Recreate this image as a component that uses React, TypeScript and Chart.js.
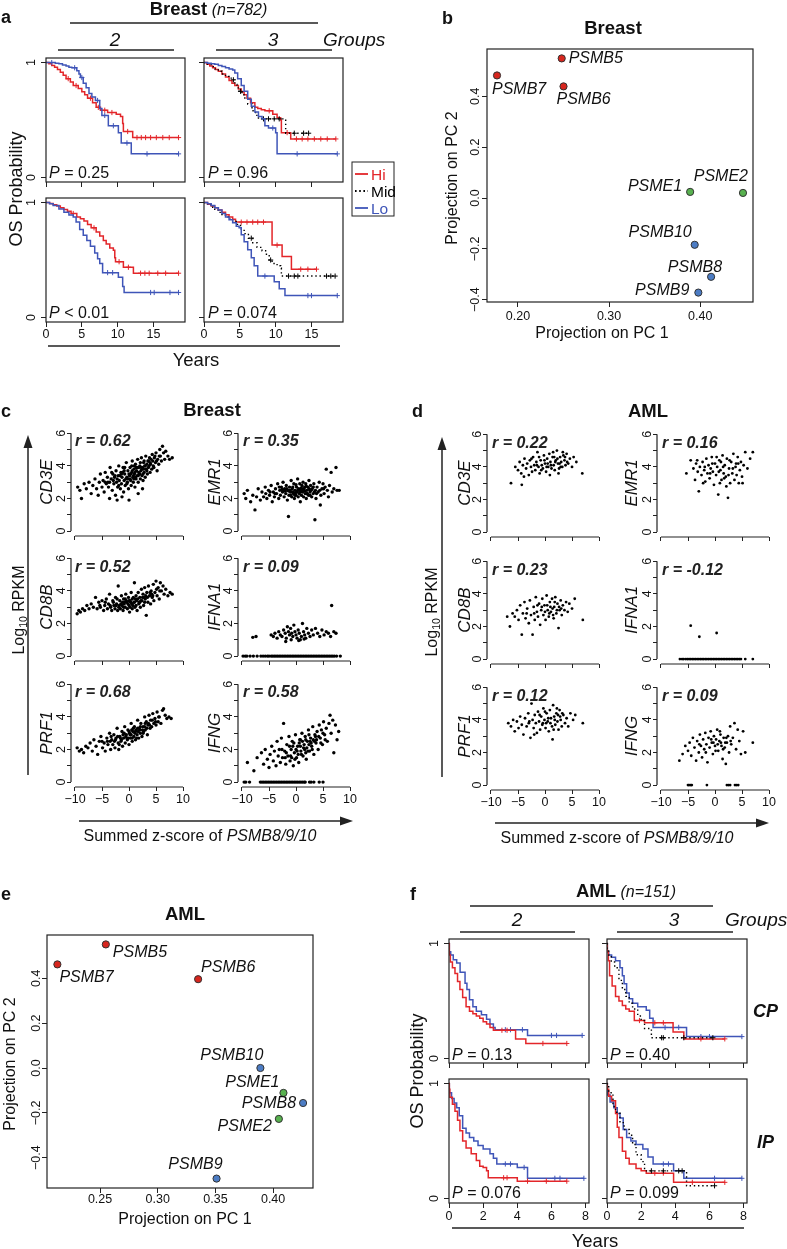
import React, { useEffect, useRef } from "react";
import { Chart, registerables } from "chart.js";

Chart.register(...registerables);

const FONT = '"Liberation Sans", Arial, Helvetica, sans-serif';
Chart.defaults.font.family = FONT;
Chart.defaults.color = "#111";

// ---------------- DATA ----------------
// Kaplan-Meier curves: [years, survival]; a repeated survival value marks a censored case (+)
// Panel a (Breast)
const a1Hi = [[0,1],[0.4,0.99],[0.8,0.975],[1.2,0.96],[1.6,0.94],[2,0.915],[2.4,0.89],[2.8,0.86],[3.1,0.86],[3.4,0.83],[3.8,0.8],[4.2,0.8],[4.5,0.775],[5,0.745],[5.4,0.72],[5.8,0.69],[6.2,0.69],[6.5,0.65],[7,0.61],[7.3,0.61],[7.6,0.585],[8.2,0.585],[8.6,0.565],[9.2,0.565],[9.8,0.55],[10.4,0.53],[10.7,0.47],[10.8,0.4],[11.4,0.4],[12.1,0.347],[12.7,0.347],[13.3,0.347],[13.9,0.347],[14.6,0.347],[15.4,0.347],[16.3,0.347],[17.2,0.347],[18.5,0.347]];
const a1Lo = [[0,1],[0.8,1],[1.3,0.995],[1.8,0.99],[2.3,0.98],[2.8,0.97],[3.2,0.96],[3.6,0.955],[4,0.955],[4.3,0.93],[4.6,0.9],[4.8,0.87],[5,0.87],[5.2,0.82],[5.6,0.78],[6,0.73],[6.4,0.7],[6.9,0.67],[7.2,0.67],[7.5,0.6],[7.8,0.54],[8.2,0.54],[8.7,0.45],[9.4,0.45],[10.1,0.39],[10.5,0.3],[11.3,0.3],[11.9,0.205],[14.1,0.205],[18.5,0.205]];
const a2Hi = [[0,1],[0.4,0.985],[0.8,0.97],[1.2,0.955],[1.6,0.94],[2,0.925],[2.5,0.9],[3,0.875],[3.5,0.845],[3.9,0.82],[4.3,0.8],[4.8,0.77],[5.2,0.745],[5.6,0.72],[6,0.69],[6.5,0.65],[7.1,0.61],[7.5,0.6],[8,0.59],[8.5,0.58],[9.1,0.58],[9.6,0.55],[10.2,0.52],[10.7,0.5],[10.8,0.39],[11.6,0.39],[12.1,0.335],[12.9,0.335],[13.7,0.335],[14.5,0.335],[15.4,0.335],[16.3,0.335],[17.2,0.335],[18.4,0.335]];
const a2Mid = [[0,1],[0.5,0.985],[1,0.965],[1.5,0.945],[2,0.925],[2.5,0.9],[3,0.88],[3.5,0.865],[3.9,0.85],[4.1,0.85],[4.3,0.81],[4.6,0.78],[4.9,0.75],[5.1,0.75],[5.3,0.72],[5.7,0.68],[6.1,0.64],[6.7,0.58],[7.2,0.54],[7.6,0.51],[8.3,0.51],[9,0.51],[9.8,0.51],[10.5,0.51],[11.4,0.385],[12.6,0.385],[13.9,0.385],[14.6,0.385]];
const a2Lo = [[0,1],[0.5,0.995],[1,0.99],[1.5,0.985],[2,0.975],[2.5,0.965],[3,0.955],[3.5,0.945],[4,0.935],[4.3,0.91],[4.7,0.86],[5.2,0.8],[5.6,0.75],[6.1,0.68],[6.6,0.62],[7.1,0.57],[7.6,0.53],[8.1,0.51],[8.5,0.45],[9,0.43],[9.6,0.43],[10,0.39],[10.2,0.205],[13,0.205],[18.6,0.205]];
const a3Hi = [[0,1],[0.5,0.992],[1,0.982],[1.5,0.97],[2,0.955],[2.5,0.94],[3,0.925],[3.5,0.905],[3.8,0.905],[4.3,0.874],[4.8,0.86],[5.3,0.84],[5.8,0.81],[6.3,0.78],[6.7,0.78],[7,0.744],[7.5,0.71],[8,0.67],[8.4,0.64],[8.9,0.605],[9.4,0.586],[9.6,0.52],[9.7,0.485],[10.2,0.485],[10.8,0.437],[11.5,0.437],[12.2,0.385],[13.2,0.385],[13.8,0.385],[14.4,0.385],[15.6,0.385],[16.7,0.385],[18.5,0.385]];
const a3Lo = [[0,1],[0.5,0.99],[1,0.975],[1.8,0.945],[2.5,0.915],[3.2,0.893],[3.8,0.874],[4.2,0.83],[4.7,0.765],[5.2,0.715],[5.7,0.67],[6.2,0.62],[6.8,0.56],[7.2,0.51],[7.5,0.47],[7.9,0.39],[8.6,0.39],[9.3,0.39],[10.1,0.35],[10.7,0.27],[10.9,0.217],[14.6,0.217],[15.1,0.217],[17.3,0.217],[18.5,0.217]];
const a4Hi = [[0,1],[0.5,0.985],[1,0.97],[1.5,0.955],[2,0.935],[2.5,0.915],[3,0.895],[3.5,0.875],[4,0.855],[4.4,0.83],[5.2,0.83],[6,0.83],[6.8,0.83],[7.5,0.83],[8.3,0.83],[9.5,0.63],[10.2,0.63],[10.9,0.53],[12.2,0.42],[13.5,0.42],[14.5,0.42],[15.7,0.42]];
const a4Mid = [[0,1],[0.5,0.98],[1,0.96],[1.5,0.935],[2,0.915],[2.5,0.895],[3,0.875],[3.4,0.855],[4,0.835],[4.6,0.81],[5.1,0.77],[5.6,0.73],[6.2,0.69],[6.6,0.69],[6.8,0.65],[7.4,0.61],[8.1,0.58],[8.6,0.55],[9.1,0.5],[9.3,0.5],[9.5,0.47],[10.2,0.45],[10.7,0.43],[10.8,0.36],[11.8,0.36],[12.6,0.36],[13.1,0.36],[17.1,0.36],[17.7,0.36],[18.3,0.36]];
const a4Lo = [[0,1],[0.5,0.99],[1,0.975],[1.5,0.955],[2,0.935],[2.5,0.905],[3,0.875],[3.5,0.85],[4,0.825],[4.5,0.795],[4.9,0.78],[5.2,0.72],[5.6,0.66],[6.1,0.59],[6.6,0.52],[7,0.45],[7.5,0.36],[8.5,0.36],[9.8,0.31],[10.5,0.25],[11.3,0.19],[14.5,0.19],[15,0.19],[18.6,0.19]];
// Panel f (AML)
const f1Hi = [[0,1],[0.02,0.9],[0.08,0.84],[0.2,0.79],[0.35,0.74],[0.5,0.67],[0.64,0.6],[0.8,0.53],[1,0.45],[1.2,0.41],[1.4,0.39],[1.6,0.37],[1.8,0.35],[2,0.32],[2.2,0.3],[2.4,0.27],[2.6,0.245],[3.1,0.245],[3.4,0.245],[3.9,0.17],[4.5,0.13],[5.5,0.13],[6.9,0.13]];
const f1Lo = [[0,1],[0.02,0.93],[0.1,0.9],[0.25,0.86],[0.45,0.83],[0.65,0.75],[0.94,0.655],[1.05,0.6],[1.2,0.51],[1.4,0.45],[1.6,0.41],[1.9,0.38],[2.2,0.34],[2.4,0.3],[2.6,0.27],[2.7,0.25],[3.3,0.25],[3.6,0.25],[4.3,0.25],[4.6,0.2],[6,0.2],[6.3,0.2],[7.8,0.2]];
const f2Hi = [[0,1],[0.02,0.93],[0.08,0.85],[0.15,0.72],[0.3,0.63],[0.5,0.54],[0.7,0.5],[0.9,0.46],[1.1,0.43],[1.3,0.41],[1.6,0.33],[1.9,0.33],[2.2,0.31],[2.8,0.31],[3.3,0.31],[3.87,0.23],[4.5,0.17],[5.5,0.17],[6.9,0.17]];
const f2Mid = [[0,1],[0.02,0.95],[0.1,0.9],[0.25,0.84],[0.45,0.79],[0.7,0.68],[0.9,0.6],[1.1,0.54],[1.3,0.48],[1.5,0.43],[1.8,0.37],[2,0.33],[2.2,0.26],[2.6,0.18],[3.2,0.18],[3.3,0.18],[4.5,0.18],[6.2,0.18]];
const f2Lo = [[0,1],[0.02,0.93],[0.1,0.9],[0.27,0.88],[0.5,0.85],[0.76,0.79],[0.9,0.72],[1,0.65],[1.15,0.57],[1.3,0.52],[1.5,0.48],[1.8,0.45],[2.3,0.42],[2.5,0.35],[2.7,0.27],[3.4,0.27],[4.2,0.27],[4.66,0.19],[5.5,0.19],[6,0.19],[7.9,0.19]];
const f3Hi = [[0,1],[0.02,0.95],[0.05,0.88],[0.2,0.82],[0.35,0.76],[0.5,0.68],[0.64,0.59],[0.8,0.5],[1,0.44],[1.3,0.39],[1.6,0.33],[1.8,0.28],[2,0.27],[2.2,0.24],[2.3,0.18],[3.2,0.18],[3.4,0.18],[4,0.15],[4.6,0.15],[5.7,0.15],[6.9,0.15]];
const f3Lo = [[0,1],[0.02,0.92],[0.15,0.87],[0.3,0.83],[0.45,0.79],[0.6,0.72],[0.8,0.61],[1,0.57],[1.2,0.53],[1.45,0.5],[1.7,0.46],[2,0.43],[2.4,0.39],[2.6,0.35],[2.8,0.3],[3.3,0.3],[3.6,0.3],[4,0.27],[4.4,0.27],[4.6,0.175],[6.2,0.175],[6.5,0.175],[7.9,0.175]];
const f4Hi = [[0,1],[0.02,0.95],[0.1,0.89],[0.27,0.85],[0.5,0.74],[0.6,0.62],[0.7,0.53],[0.9,0.41],[1.1,0.35],[1.3,0.3],[1.7,0.26],[2,0.24],[2.3,0.22],[2.8,0.22],[3.3,0.22],[3.9,0.14],[5,0.14],[6.9,0.14]];
const f4Mid = [[0,1],[0.02,0.98],[0.1,0.92],[0.35,0.8],[0.5,0.75],[0.76,0.66],[1,0.6],[1.3,0.55],[1.5,0.47],[1.7,0.38],[2,0.32],[2.2,0.24],[2.6,0.24],[3.3,0.24],[4.2,0.24],[4.4,0.24],[4.66,0.11],[6.3,0.11]];
const f4Lo = [[0,1],[0.02,0.9],[0.18,0.84],[0.4,0.79],[0.6,0.74],[0.76,0.7],[0.95,0.6],[1.15,0.53],[1.4,0.5],[1.7,0.47],[2.1,0.43],[2.4,0.36],[2.7,0.3],[3.3,0.3],[3.6,0.3],[3.9,0.24],[4.5,0.175],[6.3,0.175],[7.9,0.175]];

const kmYearTicksA = [0, 5, 10, 15];
const kmYearTicksF = [0, 2, 4, 6, 8];
const aPvals = ["= 0.25", "= 0.96", "< 0.01", "= 0.074"];
const fPvals = ["= 0.13", "= 0.40", "= 0.076", "= 0.099"];

// PCA projections (panels b, e)
const genes = ["PSMB5", "PSMB6", "PSMB7", "PSMB8", "PSMB9", "PSMB10", "PSME1", "PSME2"];
const bPC1 = [0.248, 0.25, 0.177, 0.412, 0.398, 0.394, 0.389, 0.447];
const bPC2 = [0.549, 0.439, 0.482, -0.31, -0.372, -0.184, 0.024, 0.02];
const ePC1 = [0.255, 0.335, 0.213, 0.426, 0.351, 0.389, 0.409, 0.405];
const ePC2 = [0.551, 0.396, 0.462, -0.156, -0.493, 0.0, -0.111, -0.227];
const bXTicks = [0.2, 0.3, 0.4];
const eXTicks = [0.25, 0.3, 0.35, 0.4];
const pcYTicks = [-0.4, -0.2, 0, 0.2, 0.4];

// Scatter panels c (Breast) and d (AML): flat [x, y, x, y, ...] (summed z-score, log10 RPKM)
const cCD3E = [-9.5,2.7,-9.1,2.5,-8.8,2.0,-8.3,2.9,-7.9,2.6,-7.4,3.0,-7.0,2.3,-6.7,2.8,-6.3,3.2,-6.0,2.6,-5.7,2.2,-5.5,3.0,-5.3,3.5,-5.0,2.7,-4.8,3.1,-4.6,2.4,-4.4,3.6,-4.2,2.9,-4.0,3.3,-3.8,2.7,-3.6,3.0,-3.5,3.9,-3.3,3.2,-3.1,2.5,-3.0,3.5,-2.8,2.9,-2.7,3.3,-2.5,2.2,-2.4,3.7,-2.3,3.0,-2.1,2.7,-2.0,3.4,-1.9,4.0,-1.8,3.1,-1.6,2.6,-1.5,3.6,-1.4,2.9,-1.3,3.3,-1.1,3.9,-1.0,2.4,-0.9,3.1,-0.8,3.5,-0.7,2.8,-0.5,4.2,-0.4,3.3,-0.3,3.0,-0.2,3.7,-0.1,2.6,0.0,1.9,0.1,3.4,0.2,3.9,0.3,3.1,0.4,2.8,0.5,3.6,0.6,4.3,0.7,3.3,0.8,3.0,0.9,3.8,1.0,3.5,1.1,2.7,1.2,4.1,1.3,3.2,1.4,3.7,1.5,3.4,1.6,4.4,1.7,3.0,1.8,3.9,1.9,3.5,2.0,4.0,2.1,3.2,2.2,3.7,2.3,4.5,2.4,3.4,2.5,3.9,2.6,3.1,2.7,4.2,2.8,3.6,2.9,4.0,3.0,3.3,3.1,4.6,3.2,3.8,3.3,4.1,3.4,3.5,3.5,4.3,3.6,3.9,3.8,4.5,3.9,3.6,4.0,4.1,4.2,3.8,4.3,4.7,4.4,4.3,4.6,3.9,4.7,4.5,4.9,4.2,5.0,4.8,5.2,3.7,5.3,4.4,5.5,4.1,5.7,5.0,5.8,4.6,6.0,4.3,6.2,5.2,6.4,4.8,6.6,4.4,6.8,4.9,7.2,4.6,7.5,4.4,8.0,4.5,-1.7,3.4,-0.6,3.2,0.0,3.5,0.6,3.7,1.2,3.3,1.8,3.6,2.4,3.8,3.0,4.0,-2.2,3.2,-1.2,3.6,0.3,3.5,1.0,4.0,2.6,3.5,3.7,4.0,-0.2,3.2,0.8,3.4,1.5,3.9,2.1,4.2,-2.2,1.9,-1.3,2.1,1.7,2.3,2.5,2.6,-3.6,2.0,-3.9,3.0,-3.2,3.6,-2.6,3.4,-1.9,2.8,-1.4,3.5,-0.9,3.7,-0.4,2.9,0.2,3.2,0.5,4.0,0.9,3.2,1.3,3.9,1.7,3.4,2.0,3.5,2.3,3.9,2.8,4.3,3.3,3.7,3.6,4.3,4.1,4.4,4.5,4.0,5.1,4.3,-4.4,3.0,-2.9,3.1,-0.8,3.9,1.1,3.6,2.7,3.8,3.9,4.2,4.8,4.6,5.6,4.6];
const cEMR1 = [-9.6,2.3,-9.3,2.0,-9.0,2.5,-8.4,1.8,-8.0,2.2,-7.6,1.3,-7.3,2.1,-7.0,2.6,-6.6,1.9,-6.3,2.4,-6.0,2.1,-5.7,2.7,-5.4,2.0,-5.1,2.5,-4.9,2.2,-4.6,2.8,-4.4,1.8,-4.2,2.4,-4.0,2.1,-3.8,2.6,-3.6,2.3,-3.4,2.9,-3.2,2.0,-3.0,2.5,-2.9,2.2,-2.7,2.7,-2.5,2.4,-2.4,3.0,-2.2,2.1,-2.1,2.6,-1.9,2.3,-1.8,2.8,-1.6,1.9,-1.5,2.5,-1.4,0.9,-1.3,2.2,-1.2,2.7,-1.0,2.4,-0.9,3.1,-0.8,2.1,-0.7,2.6,-0.5,2.3,-0.4,2.9,-0.3,2.0,-0.2,2.5,0.0,2.2,0.1,2.7,0.2,2.4,0.3,3.2,0.4,2.1,0.5,2.6,0.6,2.3,0.7,2.9,0.8,1.8,0.9,2.5,1.0,2.2,1.1,2.8,1.2,2.4,1.3,3.0,1.4,2.1,1.5,2.6,1.7,2.3,1.8,2.9,1.9,2.0,2.0,2.5,2.2,2.7,2.3,2.2,2.4,3.1,2.6,2.4,2.7,2.8,2.9,2.1,3.0,2.6,3.2,2.3,3.3,2.9,3.5,0.7,3.6,2.5,3.7,2.0,3.9,2.7,4.1,2.4,4.3,3.0,4.5,1.6,4.6,2.2,4.8,2.6,5.0,2.9,5.2,2.3,5.4,2.7,5.6,3.8,5.8,2.5,6.0,2.1,6.2,2.8,6.5,3.6,6.7,2.4,7.0,2.6,7.4,3.9,7.6,2.5,8.0,2.5,-2.0,2.45,-1.1,2.5,-0.1,2.35,0.6,2.55,1.6,2.45,2.5,2.55,3.4,2.4,-2.6,2.55,1.0,2.65,-0.6,2.4,2.1,2.3,1.3,2.55,-4.8,2.4,-3.9,2.3,-3.1,2.7,-2.3,2.5,-1.7,2.6,-1.0,2.2,-0.6,2.7,-0.2,2.2,0.3,2.5,0.7,2.4,1.1,2.45,1.6,2.7,2.0,2.3,2.4,2.6,2.8,2.5,3.2,2.7,3.8,2.3,4.4,2.5,5.1,2.6,-5.6,2.3,0.0,2.85,1.9,2.75,-1.3,2.45,2.6,2.2];
const cCD8B = [-9.6,2.6,-9.3,2.8,-9.0,2.7,-8.6,2.9,-8.2,2.8,-7.8,3.1,-7.4,2.9,-7.0,3.2,-6.6,3.0,-6.2,3.6,-5.9,2.9,-5.6,3.3,-5.3,3.0,-5.0,3.4,-4.7,2.8,-4.5,3.1,-4.2,3.5,-4.0,2.9,-3.8,3.2,-3.6,3.8,-3.4,3.0,-3.2,2.8,-3.0,3.4,-2.8,3.1,-2.6,2.9,-2.5,3.6,-2.3,3.2,-2.1,2.8,-2.0,4.3,-1.9,3.0,-1.7,3.4,-1.6,2.9,-1.4,3.7,-1.3,3.1,-1.1,2.8,-1.0,3.5,-0.9,3.2,-0.7,3.0,-0.6,3.8,-0.4,3.3,-0.3,2.9,-0.1,3.6,0.0,3.1,0.1,2.7,0.2,3.4,0.4,3.9,0.5,3.2,0.6,2.9,0.8,3.6,0.9,3.3,1.0,4.5,1.1,3.0,1.3,3.7,1.4,3.4,1.5,2.8,1.7,3.9,1.8,3.2,2.0,3.6,2.1,3.0,2.3,4.1,2.4,3.4,2.6,3.8,2.7,3.1,2.9,4.2,3.0,3.5,3.2,2.5,3.3,3.9,3.5,3.3,3.6,4.3,3.8,3.7,4.0,3.2,4.1,4.0,4.3,3.6,4.5,4.4,4.6,3.4,4.8,3.9,5.0,4.6,5.2,3.7,5.4,4.2,5.6,3.5,5.8,4.5,6.0,4.0,6.3,4.3,6.5,3.8,6.8,4.1,7.2,3.7,7.6,3.9,8.0,3.8,-1.5,3.2,-0.5,3.4,0.3,3.3,1.2,3.5,2.2,3.4,3.1,3.7,-2.4,3.1,0.7,3.1,1.9,3.3,2.8,3.6,-0.8,3.3,4.2,3.8,-5.4,3.1,-4.4,3.3,-3.5,3.1,-2.9,3.3,-2.2,3.5,-1.8,3.1,-1.2,3.3,-0.7,3.5,-0.2,3.2,0.2,3.0,0.6,3.5,1.0,3.3,1.6,3.5,2.0,3.3,2.5,3.6,2.9,3.3,3.4,3.6,3.9,3.9,4.4,3.7,5.1,4.1,5.7,4.0,1.3,3.1,0.0,3.4,-1.0,3.0];
const cIFNA1 = [-8.0,1.15,-7.4,1.2,-4.6,1.3,-4.2,1.2,-3.9,1.4,-3.5,1.1,-3.2,1.5,-2.9,1.3,-2.6,1.2,-2.3,1.6,-2.0,1.4,-1.8,1.1,-1.6,1.8,-1.4,1.5,-1.2,1.3,-1.0,1.7,-0.8,1.4,-0.6,1.2,-0.4,1.9,-0.2,1.5,0.0,1.3,0.2,1.1,0.4,1.6,0.6,1.4,0.8,1.0,1.0,1.2,1.2,2.0,1.4,1.5,1.6,1.3,1.8,1.1,2.0,1.7,2.3,1.4,2.6,1.2,2.9,1.6,3.2,1.3,3.6,1.7,4.0,1.4,4.4,1.2,4.8,1.6,5.2,1.3,5.6,1.5,6.0,1.4,6.4,1.2,6.6,3.1,7.0,1.5,7.4,1.4,-1.9,0.9,0.5,0.95,1.5,1.05,-0.9,1.0];
const cIFNA1Zero = [-9.8,-9.4,-9.1,-8.5,-7.9,-7.2,-6.5,-6.1,-5.7,-5.3,-5.0,-4.6,-4.3,-4.0,-3.7,-3.4,-3.1,-2.8,-2.5,-2.2,-1.9,-1.6,-1.3,-1.0,-0.7,-0.4,-0.1,0.2,0.5,0.8,1.1,1.4,1.7,2.0,2.3,2.6,2.9,3.2,3.5,3.8,4.1,4.4,4.7,5.0,5.3,5.6,5.9,6.2,6.5,6.8,7.1,7.5,8.2];
const cPRF1 = [-9.6,2.1,-9.2,1.9,-8.8,2.0,-8.4,1.8,-8.0,2.2,-7.6,2.1,-7.2,2.4,-6.8,1.9,-6.5,2.6,-6.1,2.2,-5.8,1.7,-5.5,2.5,-5.2,2.8,-4.9,2.1,-4.6,2.4,-4.4,1.9,-4.1,2.7,-3.9,2.3,-3.6,3.0,-3.4,2.0,-3.2,2.6,-3.0,2.3,-2.8,2.9,-2.6,2.1,-2.4,2.7,-2.2,3.3,-2.0,2.4,-1.9,2.0,-1.7,2.8,-1.5,2.5,-1.3,3.1,-1.2,2.2,-1.0,2.7,-0.8,3.4,-0.7,2.4,-0.5,2.9,-0.3,2.6,-0.2,3.2,0.0,2.3,0.1,3.0,0.3,2.7,0.4,3.6,0.6,2.5,0.7,3.1,0.9,2.8,1.0,3.4,1.2,2.6,1.3,3.2,1.5,2.9,1.6,3.8,1.8,2.7,1.9,3.3,2.1,3.0,2.2,3.6,2.4,2.8,2.6,3.4,2.7,3.1,2.9,4.0,3.0,3.2,3.2,3.7,3.4,2.9,3.5,3.5,3.7,4.1,3.9,3.3,4.0,3.8,4.2,3.4,4.4,4.2,4.6,3.6,4.8,3.9,5.0,3.5,5.2,4.3,5.4,3.7,5.6,4.0,5.9,3.6,6.2,4.4,6.4,4.5,6.7,4.1,7.0,3.9,7.4,4.0,7.8,3.9,-2.5,2.6,-1.6,2.7,-0.6,2.8,0.2,2.9,1.1,3.0,2.0,3.2,2.9,3.4,-1.1,2.9,0.5,3.2,1.7,3.1,2.5,3.2,3.6,3.6,-0.1,2.7,-3.5,2.5,-5.0,2.5,-4.0,2.5,-3.3,2.8,-2.7,2.5,-2.1,2.8,-1.4,2.6,-0.9,3.0,-0.4,2.7,0.0,3.1,0.4,2.9,0.8,3.3,1.2,3.1,1.6,3.3,2.1,3.4,2.6,3.0,3.0,3.6,3.3,3.3,3.8,3.5,4.3,3.8,4.9,3.7,5.5,4.0,1.4,2.7,-1.8,2.3,0.6,2.7];
const cIFNG = [-9.0,1.2,-7.8,0.7,-7.2,1.5,-6.4,1.8,-6.0,1.1,-5.7,2.0,-5.3,1.4,-5.0,0.9,-4.8,1.7,-4.5,2.2,-4.2,1.3,-4.0,1.9,-3.7,1.0,-3.5,2.5,-3.3,1.6,-3.1,2.0,-2.9,1.2,-2.7,2.7,-2.5,1.5,-2.3,3.6,-2.1,1.9,-1.9,1.1,-1.7,2.3,-1.5,1.6,-1.3,2.8,-1.1,1.3,-0.9,2.0,-0.7,2.5,-0.5,1.0,-0.3,1.8,-0.1,2.9,0.1,1.5,0.3,2.2,0.5,1.2,0.7,2.6,0.9,1.9,1.1,3.0,1.3,1.6,1.5,2.3,1.7,2.8,1.9,1.4,2.1,2.5,2.3,3.2,2.5,1.9,2.7,2.7,2.9,2.2,3.1,3.4,3.3,1.7,3.5,2.9,3.7,2.4,3.9,3.1,4.1,2.0,4.3,3.5,4.5,2.7,4.7,3.2,4.9,2.3,5.1,3.7,5.3,2.9,5.6,3.3,5.8,2.5,6.1,3.6,6.3,4.1,6.5,3.0,6.8,3.8,7.0,1.8,7.3,3.5,7.6,2.6,7.9,3.1,-1.0,1.6,0.0,2.0,0.8,2.2,1.6,2.0,2.4,2.3,3.2,2.6,-2.0,1.5,0.4,1.7,1.2,2.5,2.0,2.1,2.8,2.4,3.6,2.8,-0.6,2.2,1.8,1.8,-2.6,2.0,-1.8,1.8,-1.2,2.2,-0.8,1.5,-0.4,2.4,0.2,1.9,0.6,2.4,1.0,1.7,1.4,2.1,1.8,2.6,2.2,1.9,2.6,2.5,3.0,2.0,3.4,2.5,3.8,2.6,4.2,2.8,4.6,2.4,5.0,3.0,5.4,2.6,2.4,2.9,0.8,2.6,-0.2,1.4];
const cIFNGZero = [-9.6,-9.3,-8.6,-6.6,-6.3,-6.0,-5.7,-5.4,-5.1,-4.8,-4.5,-4.2,-3.9,-3.6,-3.3,-3.0,-2.7,-2.4,-2.1,-1.8,-1.5,-1.2,-0.9,-0.6,-0.3,0.0,0.3,0.6,0.9,1.2,1.5,1.7,2.5,2.8,3.3,4.3,5.0];
const dCD3E = [-6.3,3.0,-4.3,2.9,-5.5,4.0,-5.0,3.8,-4.7,4.3,-4.4,3.6,-4.1,4.1,-3.8,4.5,-3.5,3.9,-3.3,4.2,-3.0,3.5,-2.8,4.4,-2.6,4.0,-2.4,3.7,-2.2,4.6,-2.0,4.1,-1.8,3.8,-1.6,4.3,-1.4,4.9,-1.2,4.0,-1.0,3.6,-0.8,4.4,-0.6,4.1,-0.4,3.9,-0.2,4.7,0.0,4.2,0.2,3.7,0.4,4.5,0.6,4.0,0.8,4.8,1.0,4.3,1.2,3.9,1.4,4.6,1.6,4.1,1.8,3.8,2.0,4.4,2.2,5.0,2.4,4.2,2.6,3.9,2.8,4.6,3.0,4.3,3.2,4.0,3.4,4.7,3.6,4.4,3.8,4.1,4.0,4.8,4.3,4.2,4.6,4.5,5.0,4.0,5.3,4.6,5.8,4.3,6.9,3.6,-3.9,3.4,0.9,3.5,2.5,3.6,-1.1,4.6,1.5,4.9,3.3,4.9,-0.1,4.4,1.9,4.3,2.9,4.0,0.5,4.2,1.1,4.1,2.3,4.5,3.7,4.6,-2.5,4.5,-0.7,3.8,4.1,4.3,-1.5,4.1,0.3,4.0,1.7,4.6,2.7,4.2];
const dEMR1 = [-5.3,3.6,-4.5,4.4,-4.0,3.9,-3.7,3.2,-3.5,4.2,-3.2,3.7,-3.0,2.5,-2.8,4.0,-2.5,3.5,-2.3,4.3,-2.0,3.8,-1.8,3.1,-1.6,4.5,-1.4,3.6,-1.2,4.1,-1.0,3.3,-0.8,3.9,-0.6,4.6,-0.4,3.7,-0.2,2.9,0.0,4.2,0.2,3.5,0.4,4.0,0.6,2.3,0.8,4.4,1.0,3.8,1.2,3.2,1.4,4.7,1.6,3.6,1.8,4.1,2.0,3.4,2.2,4.5,2.4,2.1,2.6,3.9,2.8,3.0,3.0,4.3,3.2,3.6,3.4,4.8,3.6,3.2,3.8,4.0,4.0,3.5,4.2,4.6,4.4,3.0,4.6,3.8,4.8,4.3,5.0,3.4,5.3,4.1,5.6,4.9,6.0,3.9,6.5,4.5,7.0,4.9,-2.2,3.0,0.9,3.0,2.1,2.8,1.5,4.0,-0.5,4.2,0.3,4.6,2.7,4.4,3.9,4.2,-1.9,4.0,1.1,4.3,2.5,3.5,3.3,3.9,-0.9,3.6,0.7,3.7,1.7,3.3,4.3,4.2,-3.3,4.4,5.1,3.0];
const dCD8B = [-7.0,2.6,-6.5,2.0,-6.0,2.8,-5.6,2.6,-5.2,3.0,-4.9,2.4,-4.6,3.3,-4.3,1.5,-4.1,2.8,-3.8,3.5,-3.6,2.5,-3.3,3.1,-3.0,2.2,-2.8,3.6,-2.6,2.7,-2.3,1.5,-2.1,3.2,-1.9,2.4,-1.7,3.8,-1.5,2.9,-1.3,2.6,-1.1,3.4,-0.9,2.1,-0.7,3.0,-0.5,3.7,-0.3,2.7,-0.1,3.3,0.1,2.4,0.3,3.9,0.5,3.0,0.7,2.6,0.9,3.5,1.1,2.9,1.3,3.7,1.5,2.7,1.7,3.2,1.9,3.8,2.1,2.8,2.3,3.4,2.5,1.9,2.7,3.0,2.9,3.6,3.1,2.7,3.3,3.3,3.6,3.0,3.9,3.5,4.2,2.9,4.5,3.4,5.0,3.1,5.5,3.7,7.0,2.4,-2.0,2.8,0.4,3.3,1.4,3.1,2.2,3.0,-0.6,3.2,0.8,2.8,1.8,3.5,2.6,3.2,-1.4,3.3,0.0,2.9,1.0,3.2,-3.4,2.8,3.0,3.1,1.6,2.5];
const dIFNA1 = [-4.5,2.05,-2.9,1.37,0.3,1.6];
const dIFNA1Zero = [-6.5,-6.1,-5.8,-5.4,-5.1,-4.8,-4.5,-4.2,-3.9,-3.6,-3.3,-3.0,-2.7,-2.4,-2.1,-1.8,-1.5,-1.2,-0.9,-0.6,-0.3,0.0,0.3,0.6,0.9,1.2,1.5,1.8,2.1,2.4,2.7,3.0,3.3,3.6,3.9,4.2,4.5,4.8,5.6,7.0];
const dPRF1 = [-6.8,3.8,-6.3,3.6,-5.9,4.0,-5.6,3.3,-5.2,3.9,-4.9,3.5,-4.6,4.2,-4.3,3.7,-4.0,3.1,-3.7,4.1,-3.4,3.6,-3.1,4.4,-2.9,3.9,-2.7,2.9,-2.5,5.0,-2.3,4.0,-2.1,3.5,-1.9,4.3,-1.7,3.8,-1.5,3.2,-1.3,4.5,-1.1,3.9,-0.9,3.4,-0.7,4.2,-0.5,3.7,-0.3,4.7,-0.1,4.0,0.1,3.5,0.3,4.4,0.5,3.9,0.7,3.3,0.9,4.6,1.1,4.1,1.3,3.6,1.5,4.9,1.7,4.2,1.9,3.7,2.1,4.4,2.3,3.9,2.5,3.4,2.7,4.6,2.9,4.0,3.1,3.6,3.4,4.3,3.7,3.8,4.0,4.1,4.3,3.6,4.7,4.4,5.2,4.0,5.6,4.3,7.0,3.8,1.4,2.8,-2.0,3.1,0.0,4.5,2.2,4.7,-1.0,4.3,0.6,4.1,1.8,4.0,2.8,4.2,-3.0,3.8,0.2,3.8,1.0,3.8,3.2,4.4,-0.4,3.8,2.4,4.3,1.6,3.4];
const dIFNG = [-6.6,1.5,-6.0,1.9,-5.5,2.4,-5.0,2.1,-4.7,2.6,-4.4,1.8,-4.1,2.9,-3.8,2.3,-3.5,1.5,-3.3,2.7,-3.0,2.0,-2.8,3.1,-2.6,2.4,-2.4,1.7,-2.2,2.8,-2.0,2.2,-1.8,3.2,-1.6,2.5,-1.4,1.4,-1.2,2.9,-1.0,2.3,-0.8,3.3,-0.6,2.6,-0.4,1.9,-0.2,3.0,0.0,2.4,0.2,2.8,0.4,3.4,0.6,2.1,0.8,2.7,1.0,3.1,1.2,2.4,1.4,1.6,1.6,2.9,1.8,2.3,2.0,1.3,2.2,2.6,2.4,3.0,2.6,2.0,2.8,3.6,3.0,2.5,3.3,2.9,3.6,3.8,3.9,2.2,4.2,3.4,4.5,2.7,4.8,1.9,5.2,3.3,5.6,2.0,7.0,2.6,-1.7,2.0,0.1,2.1,1.1,2.6,2.1,2.9,-0.7,2.8,0.5,2.5,1.5,2.2,-2.9,2.5,2.9,2.7,0.9,3.3,-0.3,2.6,1.9,2.6];
const dIFNGZero = [-5.0,-4.8,-4.5,-4.3,-1.5,2.2,2.5,2.8,3.7,4.0,4.3];

const cGenes = ["CD3E", "EMR1", "CD8B", "IFNA1", "PRF1", "IFNG"];
const cR = ["0.62", "0.35", "0.52", "0.09", "0.68", "0.58"];
const dR = ["0.22", "0.16", "0.23", "-0.12", "0.12", "0.09"];
const scXTicks = [-10, -5, 0, 5, 10];
const scYTicks = [0, 1, 2, 3, 4, 5, 6];

// ---------------- STYLE / HELPERS ----------------
const RED = "#e3262a";
const BLUE = "#3f55b8";
const BLK = "#111";
const PT_RED = "#d7261e";
const PT_GREEN = "#58b14f";
const PT_BLUE = "#4c7cc4";
const TICK = 12.5;
const LINE = "#222";

let mctx: any = null;
function textW(s: string, size: number) {
  if (!mctx) mctx = document.createElement("canvas").getContext("2d");
  mctx.font = `${size}px ${FONT}`;
  return mctx.measureText(s).width;
}
const minus = (s: string) => s.replace("-", "\u2212");

function pairs(arr: number[]) {
  const out: { x: number; y: number }[] = [];
  for (let i = 0; i + 1 < arr.length; i += 2) out.push({ x: arr[i], y: arr[i + 1] });
  return out;
}

function grid(tl: number) {
  return { display: true, drawOnChartArea: false, drawTicks: true, tickLength: tl, color: LINE, lineWidth: 1 };
}

function yAxis(o: any) {
  const { min, max, ticks, fmt, D, tl, width } = o;
  const widest = Math.max(0, ...ticks.map((v: number) => textW(fmt(v), TICK)));
  return {
    type: "linear", position: "left", min, max,
    afterBuildTicks: (s: any) => { s.ticks = ticks.map((v: number) => ({ value: v })); },
    afterFit: (s: any) => { s.width = width; s.paddingTop = 0; s.paddingBottom = 0; },
    ticks: { autoSkip: false, minRotation: 90, maxRotation: 90, crossAlign: "center", padding: D - tl - widest / 2, font: { size: TICK }, color: BLK, callback: (v: number) => fmt(v) },
    grid: grid(tl),
    border: { display: false },
  };
}

function xAxis(o: any) {
  const { min, max, ticks, fmt, tl, pad, height } = o;
  return {
    type: "linear", position: "bottom", min, max,
    afterBuildTicks: (s: any) => { s.ticks = ticks.map((v: number) => ({ value: v })); },
    afterFit: (s: any) => { s.height = height; s.paddingLeft = 0; s.paddingRight = 0; },
    ticks: { autoSkip: false, minRotation: 0, maxRotation: 0, padding: pad, font: { size: TICK }, color: BLK, callback: (v: number) => fmt(v) },
    grid: grid(tl),
    border: { display: false },
  };
}

function baseOptions(m: any, scales: any, plug: any) {
  return {
    responsive: false,
    animation: false,
    events: [],
    layout: { padding: { left: 0, top: m.t, right: m.r, bottom: 0 } },
    plugins: { legend: { display: false }, tooltip: { enabled: false }, title: { display: false }, ...plug },
    scales,
  };
}

const framePlugin = {
  id: "frame",
  afterDraw(chart: any) {
    const a = chart.chartArea;
    const ctx = chart.ctx;
    ctx.save();
    ctx.strokeStyle = LINE;
    ctx.lineWidth = 1.2;
    ctx.strokeRect(a.left, a.top, a.right - a.left, a.bottom - a.top);
    ctx.restore();
  },
};

const rAxisPlugin = {
  id: "raxis",
  afterDraw(chart: any) {
    const a = chart.chartArea;
    const xs = chart.scales.x;
    const ys = chart.scales.y;
    const ctx = chart.ctx;
    ctx.save();
    ctx.strokeStyle = LINE;
    ctx.lineWidth = 1.2;
    ctx.beginPath();
    ctx.moveTo(a.left, ys.getPixelForValue(0));
    ctx.lineTo(a.left, ys.getPixelForValue(6));
    ctx.moveTo(xs.getPixelForValue(-10), a.bottom);
    ctx.lineTo(xs.getPixelForValue(10), a.bottom);
    ctx.stroke();
    ctx.restore();
  },
};

const geneLabelPlugin = {
  id: "geneLabels",
  afterDatasetsDraw(chart: any, _a: any, opts: any) {
    const meta = chart.getDatasetMeta(0);
    const ctx = chart.ctx;
    ctx.save();
    ctx.font = `italic 16px ${FONT}`;
    ctx.fillStyle = BLK;
    ctx.textBaseline = "middle";
    opts.names.forEach((n: string, i: number) => {
      const el = meta.data[i];
      const p = opts.pos[i];
      ctx.textAlign = p[2];
      ctx.fillText(n, el.x + p[0], el.y + p[1]);
    });
    ctx.restore();
  },
};

type Area = { left: number; top: number; right: number; bottom: number };
type Margins = { l: number; t: number; r: number; b: number };

function ChartBox({ area, m, build }: { area: Area; m: Margins; build: () => any }) {
  const ref = useRef<HTMLCanvasElement>(null);
  const w = area.right - area.left + m.l + m.r;
  const h = area.bottom - area.top + m.t + m.b;
  useEffect(() => {
    const chart = new Chart(ref.current as HTMLCanvasElement, build());
    return () => chart.destroy();
  }, []);
  return (
    <canvas
      ref={ref}
      width={w}
      height={h}
      style={{ position: "absolute", left: area.left - m.l, top: area.top - m.t, width: w, height: h }}
    />
  );
}

// ---------------- KM ----------------
const KM_M = { l: 30, t: 4, r: 6, b: 22 };

function kmConfig(curves: any[], o: any) {
  return {
    type: "scatter",
    data: {
      datasets: curves.map((c: any) => ({
        data: c.pts.map((p: number[]) => ({ x: p[0], y: p[1] })),
        showLine: true,
        stepped: "before",
        borderColor: c.color,
        borderWidth: c.dotted ? 1.4 : 1.5,
        borderDash: c.dotted ? [1.4, 2.8] : [],
        fill: false,
        pointStyle: "cross",
        pointRadius: c.pts.map((p: number[], i: number) => (i > 0 && p[1] === c.pts[i - 1][1] ? 2.6 : 0)),
        pointBorderColor: c.color,
        pointBackgroundColor: c.color,
        pointBorderWidth: 1,
      })),
    },
    options: baseOptions(
      KM_M,
      {
        x: xAxis({ min: 0, max: o.xMax, ticks: o.xTicks, fmt: (v: number) => (o.xLab ? String(v) : ""), tl: 5, pad: o.xPad, height: KM_M.b }),
        y: yAxis({ min: -0.04, max: 1.04, ticks: [0, 1], fmt: (v: number) => (o.yLab ? String(v) : ""), D: 14, tl: 5, width: KM_M.l }),
      },
      {}
    ),
    plugins: [framePlugin],
  };
}

const kmSpecs = [
  { area: { left: 46, top: 57, right: 185, bottom: 182 }, curves: [{ pts: a1Lo, color: BLUE }, { pts: a1Hi, color: RED }], xMax: 19.4, xTicks: kmYearTicksA, xLab: false, yLab: true, xPad: 0.5 },
  { area: { left: 204, top: 57, right: 343, bottom: 182 }, curves: [{ pts: a2Lo, color: BLUE }, { pts: a2Mid, color: "#000", dotted: true }, { pts: a2Hi, color: RED }], xMax: 19.4, xTicks: kmYearTicksA, xLab: false, yLab: false, xPad: 0.5 },
  { area: { left: 46, top: 197, right: 185, bottom: 322 }, curves: [{ pts: a3Lo, color: BLUE }, { pts: a3Hi, color: RED }], xMax: 19.4, xTicks: kmYearTicksA, xLab: true, yLab: true, xPad: 0.5 },
  { area: { left: 204, top: 197, right: 343, bottom: 322 }, curves: [{ pts: a4Lo, color: BLUE }, { pts: a4Mid, color: "#000", dotted: true }, { pts: a4Hi, color: RED }], xMax: 19.4, xTicks: kmYearTicksA, xLab: true, yLab: false, xPad: 0.5 },
  { area: { left: 449, top: 938, right: 589, bottom: 1063 }, curves: [{ pts: f1Hi, color: RED }, { pts: f1Lo, color: BLUE }], xMax: 8.2, xTicks: kmYearTicksF, xLab: false, yLab: true, xPad: 1.5 },
  { area: { left: 607, top: 938, right: 747, bottom: 1063 }, curves: [{ pts: f2Mid, color: "#000", dotted: true }, { pts: f2Hi, color: RED }, { pts: f2Lo, color: BLUE }], xMax: 8.2, xTicks: kmYearTicksF, xLab: false, yLab: false, xPad: 1.5 },
  { area: { left: 449, top: 1078, right: 589, bottom: 1203 }, curves: [{ pts: f3Hi, color: RED }, { pts: f3Lo, color: BLUE }], xMax: 8.2, xTicks: kmYearTicksF, xLab: true, yLab: true, xPad: 1.5 },
  { area: { left: 607, top: 1078, right: 747, bottom: 1203 }, curves: [{ pts: f4Mid, color: "#000", dotted: true }, { pts: f4Hi, color: RED }, { pts: f4Lo, color: BLUE }], xMax: 8.2, xTicks: kmYearTicksF, xLab: true, yLab: false, xPad: 1.5 },
];

// ---------------- Scatter (c, d) ----------------
const SC_M = { l: 30, t: 4, r: 6, b: 22 };
const cCols = [71, 238];
const dCols = [487, 657];
const cRows = [430, 555, 681];
const dRows = [431, 558, 684];
const cSets = [cCD3E, cEMR1, cCD8B, cIFNA1, cPRF1, cIFNG];
const cZeros = [null, null, null, cIFNA1Zero, null, cIFNGZero];
const dSets = [dCD3E, dEMR1, dCD8B, dIFNA1, dPRF1, dIFNG];
const dZeros = [null, null, null, dIFNA1Zero, null, dIFNGZero];

function scatterConfig(pts: number[], zeros: number[] | null, xLab: boolean, radius: number) {
  const data = pairs(pts).concat((zeros || []).map((x) => ({ x, y: 0 })));
  return {
    type: "scatter",
    data: { datasets: [{ data, pointRadius: radius, pointBackgroundColor: "#000", pointBorderWidth: 0, pointBorderColor: "#000" }] },
    options: baseOptions(
      SC_M,
      {
        x: xAxis({ min: -10.74, max: 10.55, ticks: scXTicks, fmt: (v: number) => (xLab ? minus(String(v)) : ""), tl: 4, pad: 0.8, height: SC_M.b }),
        y: yAxis({ min: -0.3, max: 6.2, ticks: scYTicks, fmt: (v: number) => (v % 2 === 0 ? String(v) : ""), D: 9.3, tl: 4, width: SC_M.l }),
      },
      {}
    ),
    plugins: [rAxisPlugin],
  };
}

// ---------------- PCA (b, e) ----------------
const PCA_M = { l: 30, t: 4, r: 6, b: 24 };
const geneColor = (g: string) => (g.startsWith("PSME") ? PT_GREEN : ["PSMB8", "PSMB9", "PSMB10"].includes(g) ? PT_BLUE : PT_RED);
const bLabelPos = [[7, 0, "left"], [-7, 13.5, "left"], [-5, 14, "left"], [11, -9, "right"], [-9, -2, "right"], [-3, -12.5, "right"], [-8, -5, "right"], [5, -16, "right"]];
const eLabelPos = [[7, 8, "left"], [3, -12, "left"], [2, 13, "left"], [-7, 1, "right"], [6, -14, "right"], [3, -12, "right"], [-4, -10, "right"], [-7, 8, "right"]];

function pcaConfig(pc1: number[], pc2: number[], pos: any[], o: any) {
  return {
    type: "scatter",
    data: {
      datasets: [{
        data: pc1.map((x, i) => ({ x, y: pc2[i] })),
        pointRadius: 3.6,
        pointBackgroundColor: genes.map(geneColor),
        pointBorderColor: "#333",
        pointBorderWidth: 1,
      }],
    },
    options: baseOptions(
      PCA_M,
      {
        x: xAxis({ min: o.xMin, max: o.xMax, ticks: o.xTicks, fmt: (v: number) => v.toFixed(2), tl: 5, pad: o.xPad, height: PCA_M.b }),
        y: yAxis({ min: o.yMin, max: o.yMax, ticks: pcYTicks, fmt: (v: number) => minus(v.toFixed(1)), D: o.D, tl: 5, width: PCA_M.l }),
      },
      { geneLabels: { names: genes, pos } }
    ),
    plugins: [framePlugin, geneLabelPlugin],
  };
}

// ---------------- Overlay text ----------------
function RotText({ x, y, size, children, italic, bold }: any) {
  return (
    <text
      transform={`translate(${x},${y}) rotate(-90)`}
      textAnchor="middle"
      fontSize={size}
      fontStyle={italic ? "italic" : "normal"}
      fontWeight={bold ? "bold" : "normal"}
      fill={BLK}
    >
      {children}
    </text>
  );
}

function HLine({ x1, x2, y }: any) {
  return <line x1={x1} y1={y} x2={x2} y2={y} stroke={LINE} strokeWidth={1.3} />;
}

function Overlay() {
  const cGeneX = [52, 220];
  const dGeneX = [470, 637];
  const cRowMid = [482, 607, 733];
  const dRowMid = [483, 610, 736];
  const cRY = [446, 572, 697];
  const dRY = [448, 575, 701];
  const cRX = [75, 243];
  const dRX = [492, 662];
  const kmPx = [49, 208, 452, 610];
  return (
    <svg width={787} height={1249} style={{ position: "absolute", left: 0, top: 0, pointerEvents: "none" }} fontFamily={FONT}>
      {/* ---- panel a ---- */}
      <text x={1} y={23} fontSize={18} fontWeight="bold" fill={BLK}>a</text>
      <text x={208.5} y={15} textAnchor="middle" fill={BLK}>
        <tspan fontSize={18.5} fontWeight="bold">Breast</tspan>
        <tspan fontSize={16} fontStyle="italic"> (n=782)</tspan>
      </text>
      <HLine x1={70} x2={318} y={23} />
      <text x={115} y={46} fontSize={19} fontStyle="italic" textAnchor="middle" fill={BLK}>2</text>
      <text x={273} y={46} fontSize={19} fontStyle="italic" textAnchor="middle" fill={BLK}>3</text>
      <text x={323} y={46} fontSize={19} fontStyle="italic" fill={BLK}>Groups</text>
      <HLine x1={58} x2={174} y={50} />
      <HLine x1={216} x2={332} y={50} />
      <RotText x={22} y={189} size={18}>OS Probability</RotText>
      {aPvals.map((p, i) => (
        <text key={"ap" + i} x={kmPx[i % 2]} y={i < 2 ? 178 : 318} fontSize={16} fill={BLK}>
          <tspan fontStyle="italic">P</tspan> {p}
        </text>
      ))}
      <rect x={352} y={162} width={42} height={54} fill="none" stroke={LINE} strokeWidth={1} />
      <line x1={355} y1={174} x2={368} y2={174} stroke={RED} strokeWidth={1.8} />
      <line x1={355} y1={191} x2={368} y2={191} stroke="#000" strokeWidth={1.8} strokeDasharray="1.6 2.6" />
      <line x1={355} y1={208} x2={368} y2={208} stroke={BLUE} strokeWidth={1.8} />
      <text x={371} y={179.5} fontSize={15.5} fill={RED}>Hi</text>
      <text x={371} y={196.5} fontSize={15.5} fill="#000">Mid</text>
      <text x={371} y={213.5} fontSize={15.5} fill={BLUE}>Lo</text>
      <HLine x1={48} x2={340} y={346} />
      <text x={196} y={366} fontSize={18.5} textAnchor="middle" fill={BLK}>Years</text>

      {/* ---- panel b ---- */}
      <text x={442} y={24} fontSize={18} fontWeight="bold" fill={BLK}>b</text>
      <text x={613} y={34} fontSize={18.5} fontWeight="bold" textAnchor="middle" fill={BLK}>Breast</text>
      <RotText x={457} y={178} size={16}>Projection on PC 2</RotText>
      <text x={602} y={338} fontSize={16} textAnchor="middle" fill={BLK}>Projection on PC 1</text>

      {/* ---- panel c ---- */}
      <text x={1} y={417} fontSize={18} fontWeight="bold" fill={BLK}>c</text>
      <text x={212} y={416} fontSize={18.5} fontWeight="bold" textAnchor="middle" fill={BLK}>Breast</text>
      <line x1={28} y1={446} x2={28} y2={775} stroke={LINE} strokeWidth={1.5} />
      <polygon points="28,435 23.5,448 32.5,448" fill={LINE} />
      <text transform="translate(24,610) rotate(-90)" textAnchor="middle" fontSize={16} fill={BLK}>
        Log<tspan fontSize={10.5} dy={3}>10</tspan><tspan dy={-3}> RPKM</tspan>
      </text>
      <line x1={79} y1={821} x2={342} y2={821} stroke={LINE} strokeWidth={1.5} />
      <polygon points="353,821 340,816.5 340,825.5" fill={LINE} />
      <text x={200} y={841} fontSize={16} textAnchor="middle" fill={BLK}>
        Summed z-score of <tspan fontStyle="italic">PSMB8/9/10</tspan>
      </text>
      {cGenes.map((g, i) => (
        <RotText key={"cg" + i} x={cGeneX[i % 2]} y={cRowMid[Math.floor(i / 2)]} size={17} italic>{g}</RotText>
      ))}
      {cR.map((r, i) => (
        <text key={"cr" + i} x={cRX[i % 2]} y={cRY[Math.floor(i / 2)]} fontSize={16} fontWeight="bold" fontStyle="italic" fill="#222">r = {r}</text>
      ))}

      {/* ---- panel d ---- */}
      <text x={412} y={417} fontSize={18} fontWeight="bold" fill={BLK}>d</text>
      <text x={648} y={417} fontSize={18.5} fontWeight="bold" textAnchor="middle" fill={BLK}>AML</text>
      <line x1={442} y1={448} x2={442} y2={777} stroke={LINE} strokeWidth={1.5} />
      <polygon points="442,437 437.5,450 446.5,450" fill={LINE} />
      <text transform="translate(437,612) rotate(-90)" textAnchor="middle" fontSize={16} fill={BLK}>
        Log<tspan fontSize={10.5} dy={3}>10</tspan><tspan dy={-3}> RPKM</tspan>
      </text>
      <line x1={495} y1={823} x2={758} y2={823} stroke={LINE} strokeWidth={1.5} />
      <polygon points="769,823 756,818.5 756,827.5" fill={LINE} />
      <text x={617} y={843} fontSize={16} textAnchor="middle" fill={BLK}>
        Summed z-score of <tspan fontStyle="italic">PSMB8/9/10</tspan>
      </text>
      {cGenes.map((g, i) => (
        <RotText key={"dg" + i} x={dGeneX[i % 2]} y={dRowMid[Math.floor(i / 2)]} size={17} italic>{g}</RotText>
      ))}
      {dR.map((r, i) => (
        <text key={"dr" + i} x={dRX[i % 2]} y={dRY[Math.floor(i / 2)]} fontSize={16} fontWeight="bold" fontStyle="italic" fill="#222">r = {r}</text>
      ))}

      {/* ---- panel e ---- */}
      <text x={1} y={900} fontSize={18} fontWeight="bold" fill={BLK}>e</text>
      <text x={185} y={920} fontSize={18.5} fontWeight="bold" textAnchor="middle" fill={BLK}>AML</text>
      <RotText x={15} y={1064} size={16}>Projection on PC 2</RotText>
      <text x={185} y={1224} fontSize={16} textAnchor="middle" fill={BLK}>Projection on PC 1</text>

      {/* ---- panel f ---- */}
      <text x={410} y={900} fontSize={18} fontWeight="bold" fill={BLK}>f</text>
      <text x={626} y={897} textAnchor="middle" fill={BLK}>
        <tspan fontSize={18.5} fontWeight="bold">AML</tspan>
        <tspan fontSize={16} fontStyle="italic"> (n=151)</tspan>
      </text>
      <HLine x1={470} x2={713} y={906} />
      <text x={517} y={926} fontSize={19} fontStyle="italic" textAnchor="middle" fill={BLK}>2</text>
      <text x={674} y={926} fontSize={19} fontStyle="italic" textAnchor="middle" fill={BLK}>3</text>
      <text x={725} y={926} fontSize={19} fontStyle="italic" fill={BLK}>Groups</text>
      <HLine x1={460} x2={575} y={932} />
      <HLine x1={617} x2={733} y={932} />
      <text x={753} y={1017} fontSize={18} fontWeight="bold" fontStyle="italic" fill={BLK}>CP</text>
      <text x={757} y={1148} fontSize={18} fontWeight="bold" fontStyle="italic" fill={BLK}>IP</text>
      <RotText x={423} y={1071} size={18}>OS Probability</RotText>
      {fPvals.map((p, i) => (
        <text key={"fp" + i} x={kmPx[2 + (i % 2)]} y={i < 2 ? 1060 : 1198} fontSize={16} fill={BLK}>
          <tspan fontStyle="italic">P</tspan> {p}
        </text>
      ))}
      <HLine x1={452} x2={744} y={1228} />
      <text x={595} y={1247} fontSize={18.5} textAnchor="middle" fill={BLK}>Years</text>
    </svg>
  );
}

export default function App() {
  return (
    <div style={{ position: "absolute", left: 0, top: 0, width: 787, height: 1249, background: "#fff", overflow: "hidden", fontFamily: FONT }}>
      {kmSpecs.map((s, i) => (
        <ChartBox key={"km" + i} area={s.area} m={KM_M} build={() => kmConfig(s.curves, s)} />
      ))}
      <ChartBox
        area={{ left: 487, top: 48, right: 753, bottom: 302 }}
        m={PCA_M}
        build={() => pcaConfig(bPC1, bPC2, bLabelPos, { xMin: 0.166, xMax: 0.458, yMin: -0.409, yMax: 0.586, xTicks: bXTicks, xPad: 2.5, D: 11 })}
      />
      <ChartBox
        area={{ left: 47, top: 934, right: 313, bottom: 1188 }}
        m={PCA_M}
        build={() => pcaConfig(ePC1, ePC2, eLabelPos, { xMin: 0.204, xMax: 0.4346, yMin: -0.535, yMax: 0.593, xTicks: eXTicks, xPad: -0.5, D: 10 })}
      />
      {cSets.map((d, i) => {
        const col = i % 2;
        const row = Math.floor(i / 2);
        const area = { left: cCols[col], top: cRows[row], right: cCols[col] + 115, bottom: cRows[row] + 106 };
        return <ChartBox key={"c" + i} area={area} m={SC_M} build={() => scatterConfig(d, cZeros[i], row === 2, 1.7)} />;
      })}
      {dSets.map((d, i) => {
        const col = i % 2;
        const row = Math.floor(i / 2);
        const area = { left: dCols[col], top: dRows[row], right: dCols[col] + 115, bottom: dRows[row] + 106 };
        return <ChartBox key={"d" + i} area={area} m={SC_M} build={() => scatterConfig(d, dZeros[i], row === 2, 1.4)} />;
      })}
      <Overlay />
    </div>
  );
}
